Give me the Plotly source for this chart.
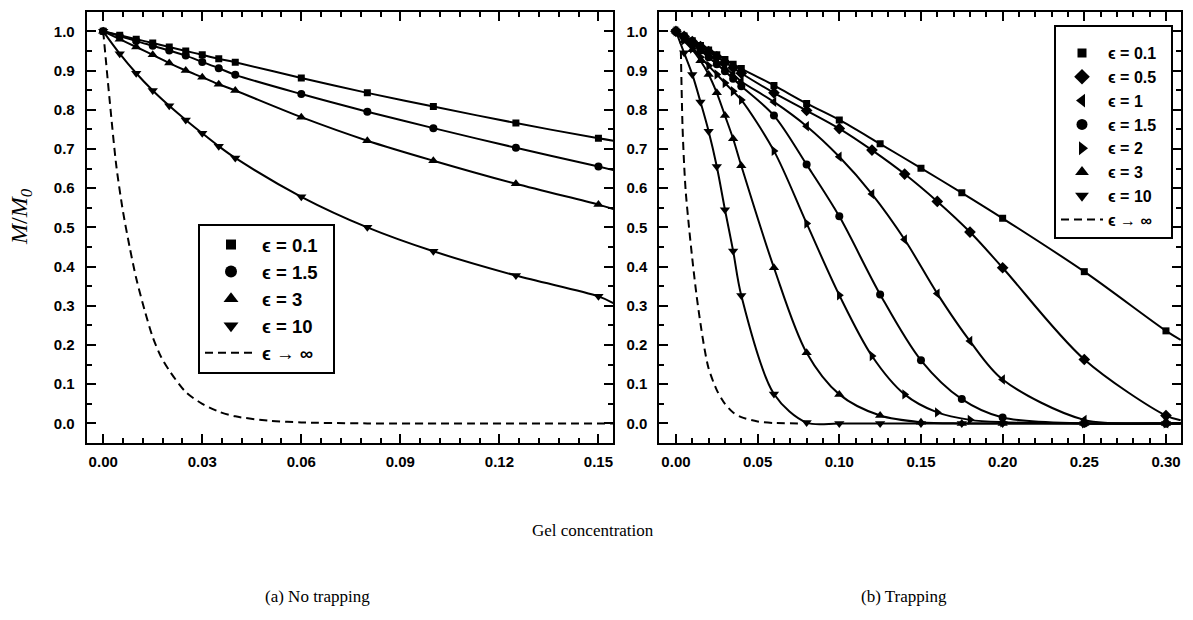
import plotly.graph_objects as go

W, H = 1193, 620

# ---------------- Data: (a) No trapping ----------------
xL = [0, 0.005, 0.01, 0.015, 0.02, 0.025, 0.03, 0.035, 0.04, 0.06, 0.08, 0.10, 0.125, 0.15]
L_e01 = [1.0, 0.990, 0.980, 0.970, 0.960, 0.950, 0.940, 0.930, 0.921, 0.881, 0.843, 0.808, 0.766, 0.727]
L_e15 = [1.0, 0.988, 0.975, 0.963, 0.951, 0.938, 0.922, 0.906, 0.889, 0.840, 0.795, 0.753, 0.703, 0.655]
L_e3 = [1.0, 0.980, 0.960, 0.940, 0.919, 0.900, 0.883, 0.865, 0.849, 0.781, 0.721, 0.670, 0.611, 0.558]
L_e10 = [1.0, 0.943, 0.893, 0.849, 0.810, 0.774, 0.740, 0.707, 0.677, 0.578, 0.500, 0.439, 0.377, 0.324]
xL_end = 0.1545
L_end = {"e01": 0.721, "e15": 0.646, "e3": 0.547, "e10": 0.307}
xL_inf = [0, 0.002, 0.004, 0.006, 0.008, 0.010, 0.0125, 0.015, 0.0175, 0.020, 0.025, 0.030,
          0.035, 0.040, 0.050, 0.060, 0.080, 0.1545]
yL_inf = [1.0, 0.82, 0.655, 0.54, 0.45, 0.37, 0.29, 0.22, 0.17, 0.135, 0.08, 0.05,
          0.03, 0.018, 0.007, 0.0025, 0.0, 0.0]

# ---------------- Data: (b) Trapping ----------------
xR_a = [0, 0.005, 0.01, 0.015, 0.02, 0.025, 0.03, 0.035, 0.04, 0.06, 0.08, 0.10, 0.125, 0.15,
        0.175, 0.20, 0.25, 0.30]
xR_b = [0, 0.005, 0.01, 0.015, 0.02, 0.025, 0.03, 0.035, 0.04, 0.06, 0.08, 0.10, 0.12, 0.14,
        0.16, 0.18, 0.20, 0.25, 0.30]
R_e01 = [1.0, 0.988, 0.976, 0.964, 0.952, 0.940, 0.928, 0.916, 0.905, 0.862, 0.816, 0.774,
         0.713, 0.651, 0.588, 0.523, 0.387, 0.236]
R_e05 = [1.0, 0.987, 0.974, 0.961, 0.948, 0.935, 0.921, 0.907, 0.893, 0.843, 0.798, 0.752,
         0.697, 0.636, 0.566, 0.488, 0.397, 0.163, 0.020]
R_e1 = [1.0, 0.985, 0.970, 0.955, 0.940, 0.924, 0.907, 0.890, 0.872, 0.820, 0.758, 0.680,
        0.585, 0.469, 0.331, 0.210, 0.112, 0.009, 0.0]
R_e15 = [1.0, 0.984, 0.968, 0.951, 0.934, 0.916, 0.898, 0.879, 0.860, 0.785, 0.660, 0.528,
         0.329, 0.161, 0.062, 0.015, 0.0, 0.0]
R_e2 = [1.0, 0.978, 0.956, 0.934, 0.912, 0.890, 0.868, 0.847, 0.825, 0.695, 0.510, 0.327,
        0.172, 0.074, 0.028, 0.009, 0.003, 0.0, 0.0]
R_e3 = [1.0, 0.975, 0.953, 0.925, 0.890, 0.843, 0.785, 0.726, 0.657, 0.397, 0.180, 0.074,
        0.020, 0.003, 0.0, 0.0, 0.0, 0.0]
R_e10 = [1.0, 0.945, 0.890, 0.820, 0.745, 0.655, 0.545, 0.440, 0.326, 0.075, 0.002, 0.0,
         0.0, 0.0, 0.0, 0.0, 0.0, 0.0]
xR_end = 0.309
R_end = {"e01": 0.213, "e05": 0.008, "e1": 0.0, "e15": 0.0, "e2": 0.0, "e3": 0.0, "e10": 0.0}
xR_inf = [0.003, 0.004, 0.005, 0.006, 0.008, 0.010, 0.0125, 0.015, 0.0175, 0.020, 0.025,
          0.030, 0.035, 0.040, 0.050, 0.060, 0.075]
yR_inf = [0.95, 0.76, 0.66, 0.59, 0.50, 0.42, 0.33, 0.255, 0.19, 0.14, 0.085,
          0.05, 0.028, 0.016, 0.005, 0.001, 0.0]

# ---------------- Figure ----------------
fig = go.Figure()
NB = "\u00a0"

def add_series(x, y, x_end, y_end, symbol, size, leg_size, name, xa, ya, legend):
    fig.add_trace(go.Scatter(
        x=list(x) + [x_end], y=list(y) + [y_end], mode="lines",
        line=dict(color="black", width=2, shape="spline", smoothing=0.9),
        xaxis=xa, yaxis=ya, showlegend=False, hoverinfo="skip"))
    fig.add_trace(go.Scatter(
        x=x, y=y, mode="markers", name=name, showlegend=False,
        marker=dict(symbol=symbol, size=size, color="black", line=dict(width=0)),
        xaxis=xa, yaxis=ya))
    # legend-only entry (no data) so the legend symbol can be larger
    fig.add_trace(go.Scatter(
        x=[None], y=[None], mode="markers", name=name + NB + NB,
        marker=dict(symbol=symbol, size=leg_size, color="black", line=dict(width=0)),
        xaxis=xa, yaxis=ya, legend=legend))

EPS = "\u03f5"
DASH = "8px,5px"

# panel (a)
add_series(xL, L_e01, xL_end, L_end["e01"], "square", 7, 10, f"{EPS} = 0.1", "x", "y", "legend")
add_series(xL, L_e15, xL_end, L_end["e15"], "circle", 8, 12, f"{EPS} = 1.5", "x", "y", "legend")
add_series(xL, L_e3, xL_end, L_end["e3"], "triangle-up", 9, 13, f"{EPS} = 3", "x", "y", "legend")
add_series(xL, L_e10, xL_end, L_end["e10"], "triangle-down", 9, 13, f"{EPS} = 10", "x", "y", "legend")
fig.add_trace(go.Scatter(x=xL_inf, y=yL_inf, mode="lines", name=f"{EPS} \u2192 \u221e",
                         line=dict(color="black", width=2, dash=DASH, shape="spline", smoothing=0.8),
                         xaxis="x", yaxis="y", legend="legend"))

# panel (b)
add_series(xR_a, R_e01, xR_end, R_end["e01"], "square", 7, 9, f"{EPS} = 0.1", "x2", "y2", "legend2")
add_series(xR_b, R_e05, xR_end, R_end["e05"], "diamond", 9, 12, f"{EPS} = 0.5", "x2", "y2", "legend2")
add_series(xR_b, R_e1, xR_end, R_end["e1"], "triangle-left", 9, 12, f"{EPS} = 1", "x2", "y2", "legend2")
add_series(xR_a, R_e15, xR_end, R_end["e15"], "circle", 8, 11, f"{EPS} = 1.5", "x2", "y2", "legend2")
add_series(xR_b, R_e2, xR_end, R_end["e2"], "triangle-right", 9, 12, f"{EPS} = 2", "x2", "y2", "legend2")
add_series(xR_a, R_e3, xR_end, R_end["e3"], "triangle-up", 9, 12, f"{EPS} = 3", "x2", "y2", "legend2")
add_series(xR_a, R_e10, xR_end, R_end["e10"], "triangle-down", 9, 12, f"{EPS} = 10", "x2", "y2", "legend2")
fig.add_trace(go.Scatter(x=xR_inf, y=yR_inf, mode="lines", name=f"{EPS} \u2192 \u221e",
                         line=dict(color="black", width=2, dash=DASH, shape="spline", smoothing=0.8),
                         xaxis="x2", yaxis="y2", legend="legend2"))

tickfont = dict(family="Liberation Sans", size=15, color="black", weight="bold")
common = dict(showline=True, linewidth=2, linecolor="black", mirror="ticks",
              ticks="inside", ticklen=9, tickwidth=2, tickcolor="black",
              showgrid=False, zeroline=False, tickfont=tickfont, automargin=False)

y_dom = [1 - 443 / H, 1 - 11.7 / H]
minor_style = dict(ticks="inside", ticklen=5, tickwidth=2, tickcolor="black", showgrid=False)
title_font = dict(family="Liberation Serif", size=17, color="black")
fig.update_layout(
    width=W, height=H, margin=dict(l=0, r=0, t=0, b=0),
    plot_bgcolor="white", paper_bgcolor="white",
    xaxis=dict(domain=[86.7 / W, 613.3 / W], range=[-0.005, 0.1545],
               tickmode="linear", tick0=0, dtick=0.03, tickformat=".2f",
               minor=dict(dtick=0.006, tick0=0, **minor_style),
               ticklabelstandoff=4, anchor="y", **common),
    yaxis=dict(domain=y_dom, range=[-0.05, 1.05], tickmode="linear", tick0=0, dtick=0.1,
               tickformat=".1f", minor=dict(dtick=0.05, tick0=0, **minor_style),
               ticklabelstandoff=7, anchor="x", **common),
    xaxis2=dict(domain=[659.3 / W, 1181 / W], range=[-0.0102, 0.3092],
                tickmode="linear", tick0=0, dtick=0.05, tickformat=".2f",
                minor=dict(dtick=0.01, tick0=0, **minor_style),
                ticklabelstandoff=4, anchor="y2", **common),
    yaxis2=dict(domain=y_dom, range=[-0.05, 1.05], tickmode="linear", tick0=0, dtick=0.1,
                tickformat=".1f", minor=dict(dtick=0.05, tick0=0, **minor_style),
                ticklabelstandoff=7, anchor="x2", **common),
    legend=dict(x=198 / W, y=1 - 224 / H, xanchor="left", yanchor="top",
                bordercolor="black", borderwidth=2, bgcolor="white",
                font=dict(family="Liberation Sans", size=18.5, color="black", weight="bold"),
                itemwidth=52, tracegroupgap=0),
    legend2=dict(x=1054 / W, y=1 - 25 / H, xanchor="left", yanchor="top",
                 bordercolor="black", borderwidth=2, bgcolor="white",
                 font=dict(family="Liberation Sans", size=16, color="black", weight="bold"),
                 title=dict(text=NB, font=dict(size=7)),
                 itemwidth=42, tracegroupgap=0),
    annotations=[
        dict(text="Gel concentration", x=593 / W, y=1 - 530 / H, xref="paper", yref="paper",
             xanchor="center", yanchor="middle", showarrow=False, font=title_font),
        dict(text="(a) No trapping", x=317 / W, y=1 - 596 / H, xref="paper", yref="paper",
             xanchor="center", yanchor="middle", showarrow=False, font=title_font),
        dict(text="(b) Trapping", x=904 / W, y=1 - 596 / H, xref="paper", yref="paper",
             xanchor="center", yanchor="middle", showarrow=False, font=title_font),
        dict(text="<i>M</i>/<i>M</i><sub><i>0</i></sub>", x=21 / W, y=1 - 217 / H,
             xref="paper", yref="paper", xanchor="center", yanchor="middle",
             textangle=-90, showarrow=False,
             font=dict(family="Liberation Serif", size=24, color="black")),
    ],
)

fig.write_html("out.html", config={"displayModeBar": False},
               post_script="document.body.style.margin='0px';document.body.style.overflow='hidden';")
